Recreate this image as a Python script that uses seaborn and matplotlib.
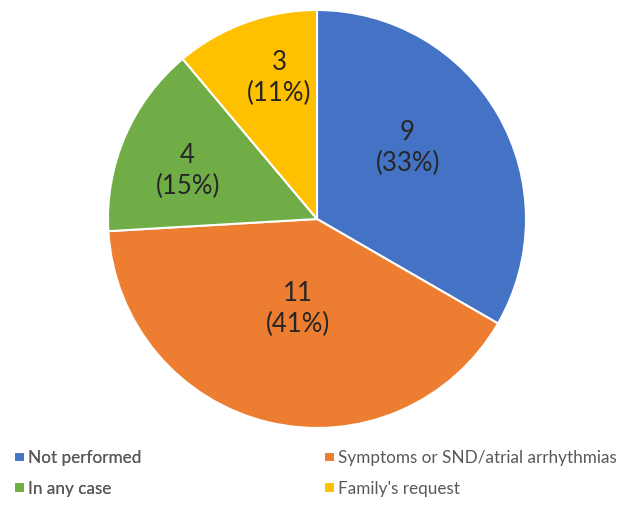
import numpy as np
import matplotlib
matplotlib.use('Agg')
import matplotlib.pyplot as plt
import seaborn as sns

# Reasons / indications (counts)
categories = ['Not performed', 'Symptoms or SND/atrial arrhythmias', 'In any case', "Family's request"]
counts = [9, 11, 4, 3]
colors = ['#4472C4', '#ED7D31', '#70AD47', '#FFC000']
# label placement: fraction of radius and angle nudge (degrees) from wedge middle
label_radius = [0.55, 0.44, 0.66, 0.70]
label_shift = [8, 1.5, 3, -5]

sns.set_theme(style='white')
plt.rcParams['font.family'] = ['Lato', 'DejaVu Sans']

fig = plt.figure(figsize=(6.29, 5.05), dpi=100)
ax = fig.add_axes([108 / 629, 77 / 505, 418 / 629, 418 / 505])

total = sum(counts)
wedges, _ = ax.pie(counts, colors=colors, startangle=90, counterclock=False,
                   wedgeprops=dict(edgecolor='white', linewidth=1.5))

# value labels: count and percent
for w, n, r, s in zip(wedges, counts, label_radius, label_shift):
    mid = np.deg2rad((w.theta1 + w.theta2) / 2 + s)
    ax.text(r * np.cos(mid), r * np.sin(mid), f'{n}\n({n / total:.0%})',
            ha='center', va='center', fontsize=18.5, color='#262626', linespacing=1.3)

ax.set_xlim(-1, 1)
ax.set_ylim(-1, 1)
ax.set_aspect('equal')

legend_kw = dict(loc='upper left', frameon=False, fontsize=12.3,
                 handlelength=0.6, handleheight=0.6, handletextpad=0.2,
                 labelspacing=0.85, labelcolor='#595959', borderpad=0.3)
leg1 = fig.legend(wedges[0::2], categories[0::2], bbox_to_anchor=(0.001, 0.136), **legend_kw)
fig.legend(wedges[1::2], categories[1::2], bbox_to_anchor=(0.494, 0.136), **legend_kw)
fig.add_artist(leg1)

plt.savefig('out.png', dpi=100)
